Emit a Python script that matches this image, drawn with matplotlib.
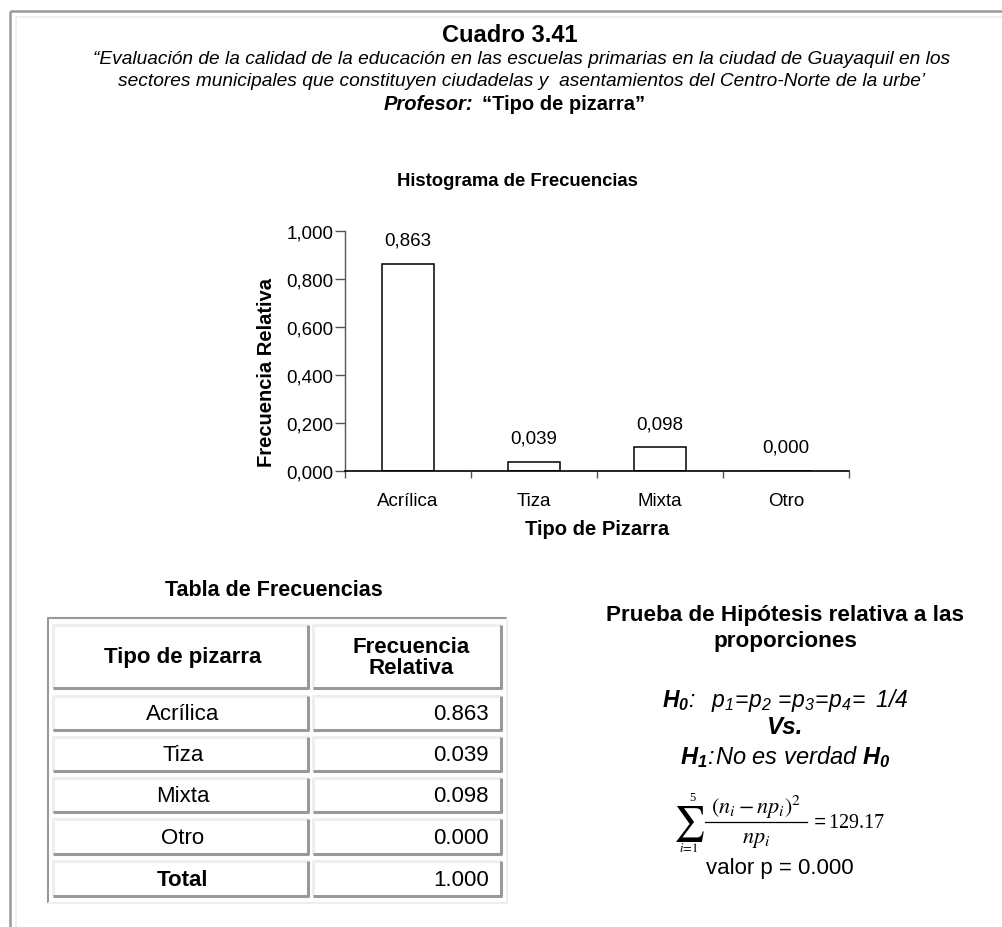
import matplotlib
matplotlib.use("Agg")
import matplotlib.pyplot as plt
from matplotlib.ticker import FuncFormatter, FixedLocator

# ---------------- data ----------------
categories = ["Acrílica", "Tiza", "Mixta", "Otro"]
rel_freq = [0.863, 0.039, 0.098, 0.000]
total_freq = 1.000
yticks = [0.0, 0.2, 0.4, 0.6, 0.8, 1.0]
chi2_value = 129.17
p_value = 0.000
n_terms = 5

title = "Cuadro 3.41"
subtitle1 = "“Evaluación de la calidad de la educación en las escuelas primarias en la ciudad de Guayaquil en los"
subtitle2 = "sectores municipales que constituyen ciudadelas y  asentamientos del Centro-Norte de la urbe’"
chart_title = "Histograma de Frecuencias"
xlabel = "Tipo de Pizarra"
ylabel = "Frecuencia Relativa"
table_title = "Tabla de Frecuencias"
col_headers = ["Tipo de pizarra", "Frecuencia\nRelativa"]

plt.rcParams["font.family"] = ["Liberation Sans", "DejaVu Sans"]
plt.rcParams["mathtext.fontset"] = "custom"
plt.rcParams["mathtext.rm"] = "Liberation Sans:italic"
plt.rcParams["mathtext.it"] = "Liberation Sans:italic"
plt.rcParams["mathtext.bf"] = "Liberation Sans:italic:bold"

W, H = 1002, 928
fig = plt.figure(figsize=(W / 100, H / 100), dpi=100)
fig.patch.set_facecolor("white")

# overlay for decorations (pixel coords)
ov = fig.add_axes([0, 0, 1, 1], zorder=0)
ov.set_xlim(0, W)
ov.set_ylim(H, 0)
ov.axis("off")

def T(x, y, s, **kw):
    return ov.text(x, y, s, ha=kw.pop("ha", "center"), va=kw.pop("va", "center"), **kw)

# outer frame
ov.plot([10, 10], [12, H], color="#999999", lw=1.8, solid_capstyle="butt")
ov.plot([10, W], [12, 12], color="#999999", lw=1.8, solid_capstyle="butt")
ov.plot([16, 16], [18, H], color="#eeeeee", lw=1.2, solid_capstyle="butt")
ov.plot([16, W], [18, 18], color="#eeeeee", lw=1.2, solid_capstyle="butt")

# header texts
T(510, 35, title, fontsize=17, fontweight="bold")
T(522, 60, subtitle1, fontsize=13.8, style="italic")
T(522, 81, subtitle2, fontsize=13.8, style="italic")
T(473, 104, "Profesor:", fontsize=14.5, fontweight="bold", style="italic", ha="right")
T(482, 104, "“Tipo de pizarra”", fontsize=14.5, fontweight="bold", ha="left")
T(517, 181, chart_title, fontsize=13.3, fontweight="bold")

# ---------------- chart ----------------
ax = fig.add_axes([345 / W, 1 - 472 / H, 504 / W, 240 / H], zorder=2)
ax.patch.set_alpha(0)
x = list(range(len(categories)))
ax.bar(x, rel_freq, width=0.405, color="white", edgecolor="black", linewidth=1.1)
for xi, v in zip(x, rel_freq):
    ax.annotate(f"{v:.3f}".replace(".", ","), (xi, v), xytext=(0, 17),
                textcoords="offset points", ha="center", va="center", fontsize=13.5)
ax.set_xlim(-0.5, len(categories) - 0.5)
ax.set_ylim(0, 1.0)
ax.yaxis.set_major_locator(FixedLocator(yticks))
ax.yaxis.set_major_formatter(FuncFormatter(lambda v, p: f"{v:.3f}".replace(".", ",")))
ax.set_xticks(x)
ax.set_xticklabels(categories)
ax.xaxis.set_minor_locator(FixedLocator([i - 0.5 for i in range(len(categories) + 1)]))
ax.tick_params(axis="x", which="major", length=0, pad=15, labelsize=13.5)
ax.tick_params(axis="x", which="minor", length=5, width=1, color="#555555")
ax.tick_params(axis="y", length=7, width=1, color="#555555", labelsize=13.5, pad=1.5)
for s in ["top", "right"]:
    ax.spines[s].set_visible(False)
ax.spines["left"].set_color("#555555")
ax.spines["bottom"].set_color("black")
ax.spines["left"].set_linewidth(1)
ax.spines["bottom"].set_linewidth(1.2)
ax.set_xlabel(xlabel, fontsize=14.5, fontweight="bold", va="center")
ax.xaxis.set_label_coords(0.5, -(530 - 472) / 240)
ax.set_ylabel(ylabel, fontsize=14.5, fontweight="bold", va="center")
ax.yaxis.set_label_coords(-(345 - 266) / 504, (472 - 373) / 240)

# ---------------- table ----------------
T(274, 591, table_title, fontsize=15.5, fontweight="bold")
dark, light = "#999999", "#eeeeee"
ov.plot([48, 48, 507], [904, 619, 619], color=dark, lw=1.5, solid_capstyle="butt")
ov.plot([48, 507, 507], [904, 904, 619], color=light, lw=1.5, solid_capstyle="butt")

cols = [(53, 308), (313, 501)]
rows = [(626, 689), (697, 731), (738, 772), (779, 813), (820, 855), (862, 897)]

def cell(x0, x1, y0, y1):
    ov.plot([x0, x0, x1], [y1, y0, y0], color=light, lw=2.2, solid_capstyle="butt")
    ov.plot([x0, x1, x1], [y1, y1, y0], color=dark, lw=2.2, solid_capstyle="butt")

for (y0, y1) in rows:
    for (x0, x1) in cols:
        cell(x0, x1, y0, y1)

T(183, 658, col_headers[0], fontsize=16, fontweight="bold")
T(411, 658, col_headers[1], fontsize=16, fontweight="bold", linespacing=1.0)
table_labels = categories + ["Total"]
table_vals = rel_freq + [total_freq]
for i, (lab, v) in enumerate(zip(table_labels, table_vals)):
    y0, y1 = rows[i + 1]
    yc = (y0 + y1) / 2 + 1
    T(183, yc, lab, fontsize=16, fontweight="bold" if lab == "Total" else "normal")
    T(489, yc, f"{v:.3f}", fontsize=16, ha="right")

# ---------------- hypothesis test ----------------
T(785, 616, "Prueba de Hipótesis relativa a las", fontsize=16.2, fontweight="bold")
T(785, 642, "proporciones", fontsize=16.2, fontweight="bold")
T(785, 701, r"$\mathbf{H_0}\!:\ \ p_1\!=\!p_2\ \!=\!p_3\!=\!p_4\!=\ 1/4$", fontsize=16.5)
T(785, 728, "Vs.", fontsize=17.5, fontweight="bold", style="italic")
T(785, 757, r"$\mathbf{H_1}\!:\!No\ es\ verdad\ \mathbf{H_0}$", fontsize=17)

# summation formula, built from pieces
mf = dict(math_fontfamily="stix")
T(689, 824, r"$\sum$", fontsize=25, **mf)
T(692, 798, f"{n_terms}", fontsize=9, family="Liberation Serif")
T(689, 849, r"$i\!=\!1$", fontsize=9, **mf)
T(756, 807, r"$(n_i - np_i)^2$", fontsize=16, **mf)
ov.plot([705, 807], [823, 823], color="black", lw=0.9)
T(756, 840, r"$np_i$", fontsize=16, **mf)
T(810, 824, r"$=$" + f"{chi2_value:.2f}", fontsize=14.5, ha="left", family="Liberation Serif")
T(780, 869, f"valor p = {p_value:.3f}", fontsize=16)

fig.savefig("out.png", dpi=100, facecolor="white")
